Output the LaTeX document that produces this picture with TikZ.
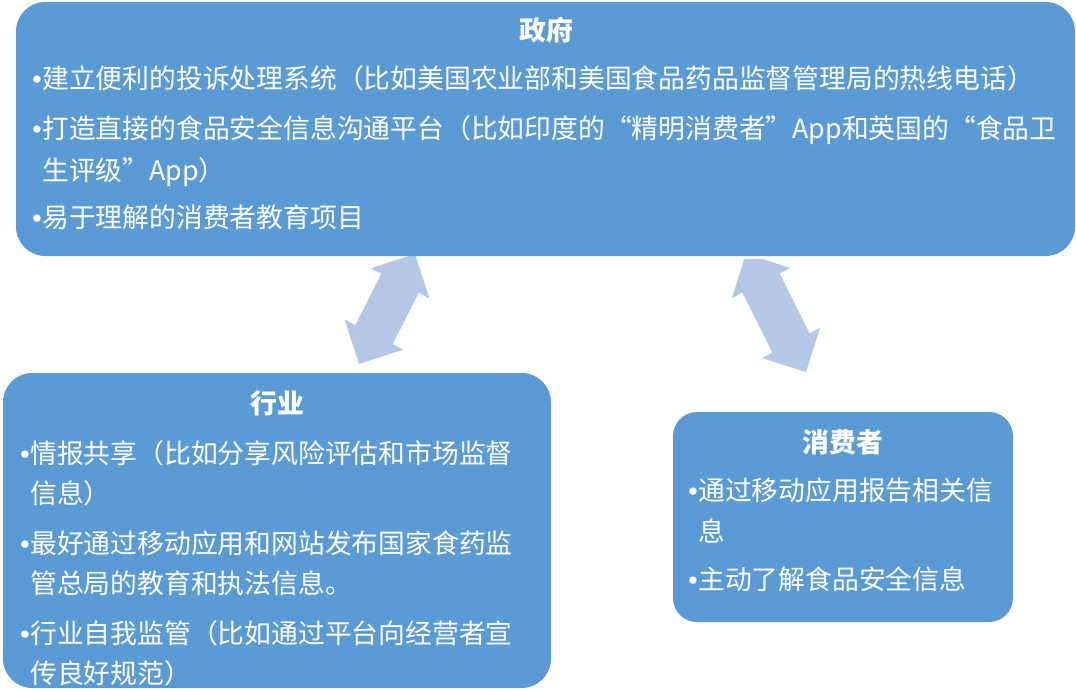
\documentclass[tikz,border=0pt]{standalone}
\usepackage{fontspec}
\setmainfont{Noto Sans CJK SC}
\newfontfamily\bulfont{Liberation Sans}
\definecolor{boxblue}{RGB}{91,155,213}
\definecolor{arrowblue}{RGB}{180,199,231}
\newcommand{\bul}{\makebox[7.5pt][l]{\bulfont •}}
\tikzset{
  panel/.style={fill=boxblue, draw=none, rounded corners=22pt},
  smallpanel/.style={fill=boxblue, draw=none, rounded corners=18pt},
  blockarrow/.style={fill=arrowblue, draw=none},
  txt/.style={text=white, inner sep=0pt, anchor=base west, font=\fontsize{20.1pt}{24pt}\selectfont},
  ttl/.style={text=white, inner sep=0pt, anchor=base, font=\fontsize{20.1pt}{24pt}\selectfont\bfseries}
}
\begin{document}
\begin{tikzpicture}[x=0.75pt, y=-0.75pt]
\useasboundingbox (0,0) rectangle (1076,690);
% block arrows (behind the boxes)
\path[blockarrow] (415,254) -- (429.4,298.4) -- (418.7,292.9) -- (392.7,344.1) -- (403.4,349.6)
  -- (359,364) -- (344.6,319.6) -- (355.3,325.1) -- (381.3,273.9) -- (370.6,268.4) -- cycle;
\path[blockarrow] (744.2,259) -- (762.2,259) -- (790,268) -- (779.6,273.4) -- (809.6,333.4)
  -- (820,328) -- (806,372) -- (762,358) -- (772.4,352.6) -- (742.4,292.6) -- (732,298) -- cycle;
% panels
\path[panel] (16,2) rectangle (1075,256);
\path[panel] (3,373) rectangle (551,688);
\path[smallpanel] (673,412) rectangle (1013,622);
% government
\node[ttl] (gt) at (546,40) {政府};
\node[txt] (g1) at (32,88) {\bul 建立便利的投诉处理系统（比如美国农业部和美国食品药品监督管理局的热线电话）};
\node[txt] (g2) at (32,138) {\bul 打造直接的食品安全信息沟通平台（比如印度的“精明消费者”App和英国的“食品卫};
\node[txt] (g3) at (42,180) {生评级”App）};
\node[txt] (g4) at (32,227) {\bul 易于理解的消费者教育项目};
% industry
\node[ttl] (it) at (277,413) {行业};
\node[txt] (i1) at (20,463) {\bul 情报共享（比如分享风险评估和市场监督};
\node[txt] (i2) at (30,503) {信息）};
\node[txt] (i3) at (20,553) {\bul 最好通过移动应用和网站发布国家食药监};
\node[txt] (i4) at (30,593) {管总局的教育和执法信息。};
\node[txt] (i5) at (20,643) {\bul 行业自我监管（比如通过平台向经营者宣};
\node[txt] (i6) at (30,683) {传良好规范）};
% consumer
\node[ttl] (ct) at (843,452) {消费者};
\node[txt] (c1) at (688,500) {\bul 通过移动应用报告相关信};
\node[txt] (c2) at (698,541) {息};
\node[txt] (c3) at (688,589) {\bul 主动了解食品安全信息};
\end{tikzpicture}
\end{document}
